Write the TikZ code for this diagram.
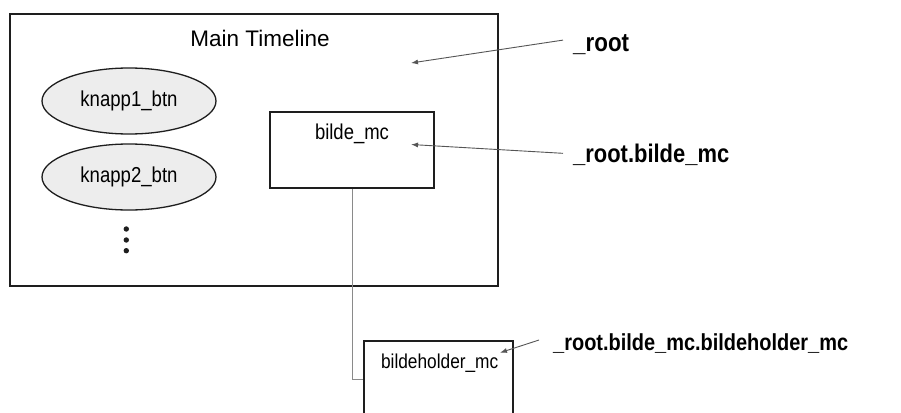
\documentclass[tikz,border=0pt]{standalone}
\usepackage{fontspec}
\setmainfont{Liberation Sans}
\newfontfamily\nf{Liberation Sans}[FakeStretch=0.86]
\usetikzlibrary{shapes.geometric,arrows.meta}
\definecolor{linedark}{HTML}{1E1E1E}
\definecolor{arrowgray}{HTML}{555555}
\definecolor{conngray}{HTML}{8A8A8A}
\definecolor{ellfill}{HTML}{EDEDED}
\tikzset{
  box/.style={draw=linedark, line width=1.5pt, rectangle, inner sep=0pt},
  btn/.style={draw=linedark, line width=1.3pt, fill=ellfill, ellipse, inner sep=0pt,
    minimum width=174pt, minimum height=66pt, font=\nf\fontsize{21.6}{24}\selectfont},
  lbl/.style={inner sep=0pt, anchor=base west, font=\nf\bfseries\fontsize{25.5}{28}\selectfont},
  ptr/.style={draw=arrowgray, line width=0.9pt, -{Latex[length=7pt,width=5pt]}},
  conn/.style={draw=conngray, line width=1pt},
  txt/.style={inner sep=0pt, anchor=base}
}
\begin{document}
\begin{tikzpicture}[x=1pt,y=-1pt]
\useasboundingbox[fill=white] (0,0) rectangle (901,412);
% main timeline box
\node[box, line width=2pt, minimum width=488pt, minimum height=272pt] (main) at (254,150) {};
\node[txt, font=\fontsize{22.5}{25}\selectfont] (title) at (260,46.7) {Main Timeline};
% buttons
\node[btn] (k1) at (129,101) {knapp1\_btn};
\node[btn] (k2) at (129,177) {knapp2\_btn};
% dots
\fill[linedark] (126.3,229) circle (2.7);
\fill[linedark] (126.3,240) circle (2.7);
\fill[linedark] (126.3,250.7) circle (2.7);
% bilde_mc
\node[box, minimum width=164pt, minimum height=76pt] (bilde) at (352,150) {};
\node[txt, font=\nf\fontsize{21.5}{24}\selectfont] (bildetxt) at (352,139) {bilde\_mc};
% bildeholder_mc
\node[box, minimum width=149pt, minimum height=89pt] (holder) at (438.5,385.5) {};
\node[txt, font=\nf\fontsize{20.1}{23}\selectfont] (holdertxt) at (439.7,368) {bildeholder\_mc};
% connector
\draw[conn] (bilde.south) |- ([yshift=6.5pt]holder.west);
% labels
\node[lbl, font=\nf\bfseries\fontsize{26}{28}\selectfont] (l1) at (573,52) {\_root};
\node[lbl] (l2) at (573,162) {\_root.bilde\_mc};
\node[lbl, font=\nf\bfseries\fontsize{23.2}{26}\selectfont] (l3) at (553,350) {\_root.bilde\_mc.bildeholder\_mc};
% pointer arrows
\coordinate (t1) at (411,63);
\coordinate (t2) at (411,144.5);
\coordinate (t3) at (500,352.7);
\draw[ptr] ([xshift=-10pt,yshift=5pt]l1.west) -- (t1);
\draw[ptr] ([xshift=-10pt,yshift=1pt]l2.west) -- (t2);
\draw[ptr] ([xshift=-14pt,yshift=3pt]l3.west) -- (t3);
\end{tikzpicture}
\end{document}
